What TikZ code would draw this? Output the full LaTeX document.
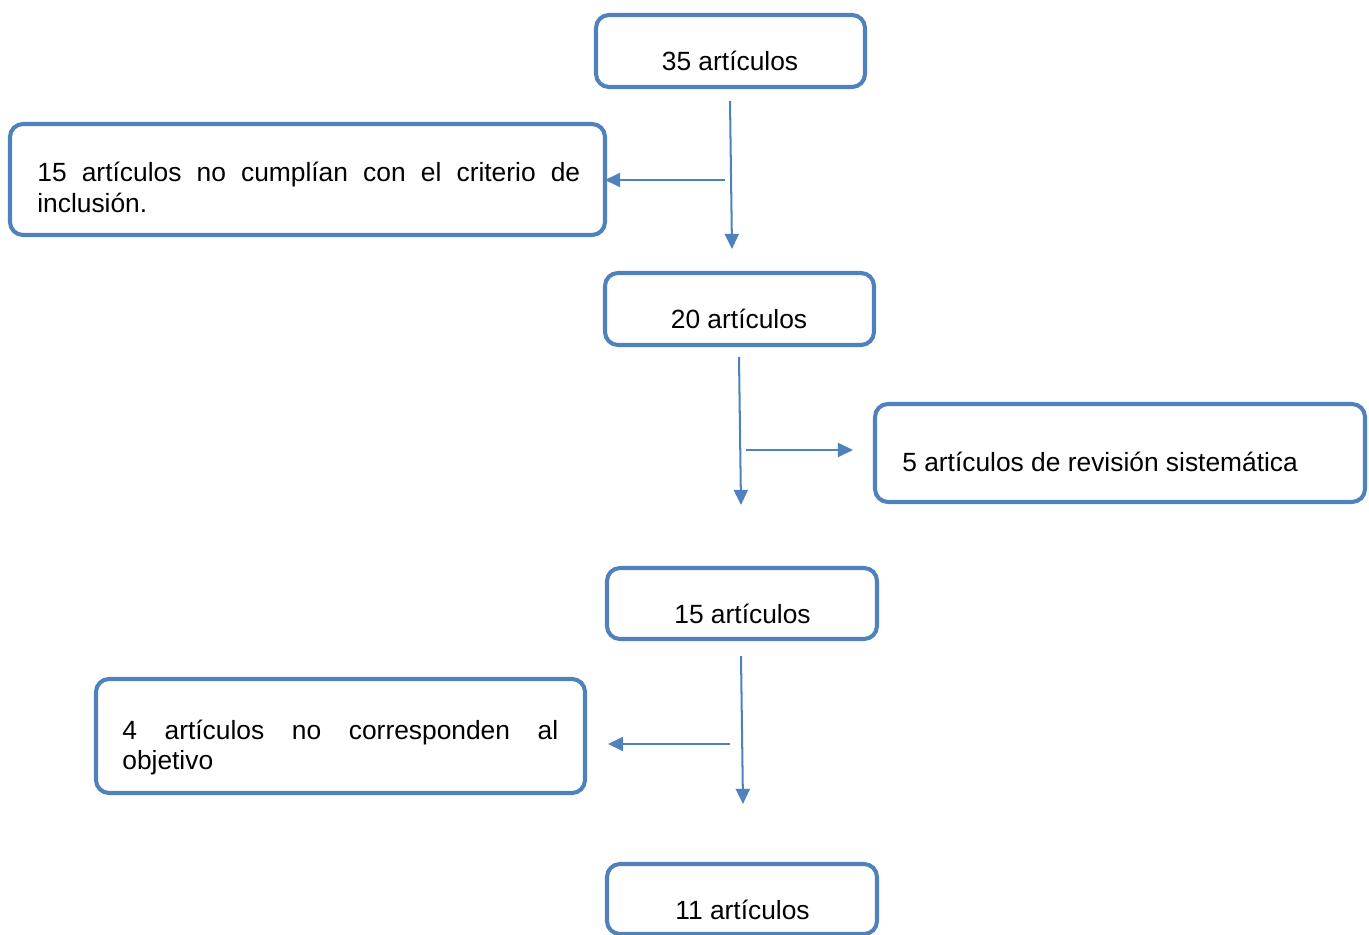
\documentclass[tikz,border=0pt]{standalone}
\usepackage{fontspec}
\setmainfont{Liberation Sans}
\usetikzlibrary{arrows.meta,fit}
\definecolor{boxblue}{HTML}{4F81BD}
\hyphenpenalty=10000
\exhyphenpenalty=10000
\begin{document}
\begin{tikzpicture}[x=0.02cm,y=-0.02cm,
  box/.style={draw=boxblue, line width=2.3pt, rounded corners=7.4pt, inner sep=0pt, outer sep=0pt},
  txt/.style={font=\fontsize{15}{17.3}\selectfont, inner sep=0pt, text=black},
  ctxt/.style={txt, anchor=base},
  ptxt/.style={txt, align=justify, anchor=base west},
  arr/.style={draw=boxblue, line width=1.15pt, -{Triangle[length=8.6pt,width=8pt]}}]
\useasboundingbox (0,0) rectangle (1369,935);

% boxes
\node[box, fit={(596,15) (865,87)}] (b1) {};
\node[box, fit={(10,124) (605,235)}] (b2) {};
\node[box, fit={(605,273) (874,345)}] (b3) {};
\node[box, fit={(875,404) (1365,502)}] (b4) {};
\node[box, fit={(607,568) (877,639)}] (b5) {};
\node[box, fit={(96,679) (585,793)}] (b6) {};
\node[box, fit={(607,864) (877,934)}] (b7) {};

% texts
\node[ctxt] (t1) at (730,71) {35 artículos};
\node[ptxt, text width=10.86cm] (t2) at (37,182) {\tolerance=10000 15 artículos no cumplían con el criterio de\linebreak inclusión.};
\node[ctxt] (t3) at (739,329) {20 artículos};
\node[txt, anchor=base west] (t4) at (902,472) {5 artículos de revisión sistemática};
\node[ctxt] (t5) at (742.5,623) {15 artículos};
\node[ptxt, text width=8.72cm] (t6) at (122,739) {\tolerance=10000 4 artículos no corresponden al\linebreak objetivo};
\node[ctxt] (t7) at (742.5,919) {11 artículos};

% connector end points
\coordinate (v1s) at (730,101);
\coordinate (v1e) at (732,249);
\coordinate (h1s) at (725,180);
\coordinate (v2s) at (739,357);
\coordinate (v2e) at (741,505);
\coordinate (h2s) at (746,450);
\coordinate (h2e) at (853,450);
\coordinate (v3s) at (741,656);
\coordinate (v3e) at (743,804);
\coordinate (h3s) at (730,744);
\coordinate (h3e) at (608,744);

% connectors
\draw[arr] (v1s) -- (v1e);
\draw[arr] (h1s) -- (h1s -| b2.east);
\draw[arr] (v2s) -- (v2e);
\draw[arr] (h2s) -- (h2e);
\draw[arr] (v3s) -- (v3e);
\draw[arr] (h3s) -- (h3e);
\end{tikzpicture}
\end{document}
